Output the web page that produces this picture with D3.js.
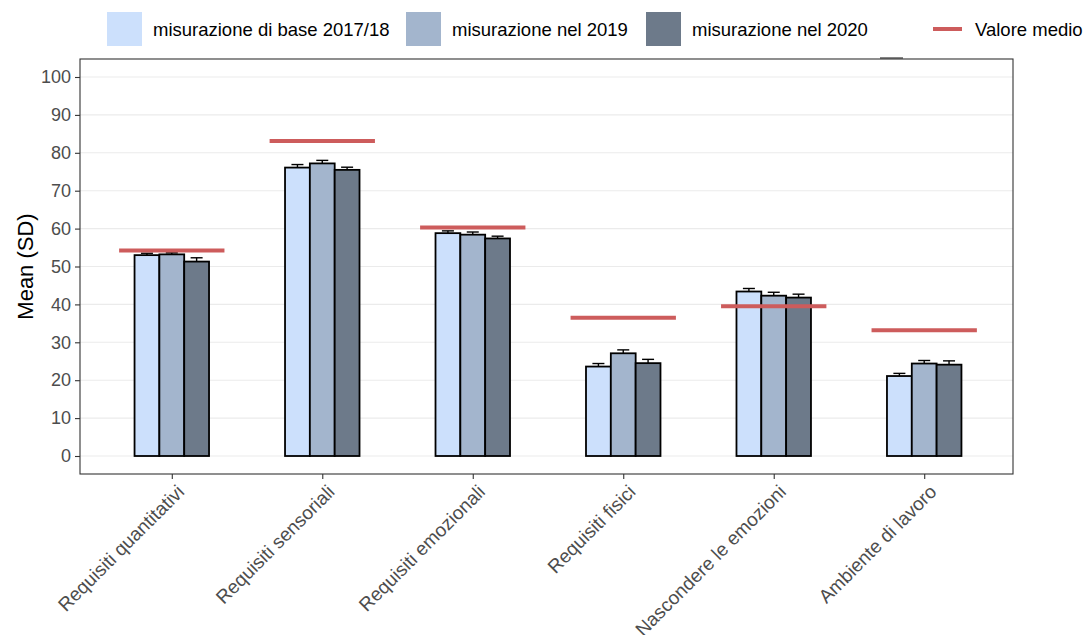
<!DOCTYPE html>
<html>
<head>
<meta charset="utf-8">
<script src="https://cdn.jsdelivr.net/npm/d3@7"></script>
<style>
  body { margin: 0; background: #fff; }
  text { font-family: "Liberation Sans", Arial, sans-serif; }
</style>
</head>
<body>
<script>
(function () {
  var categories = ['Requisiti quantitativi', 'Requisiti sensoriali', 'Requisiti emozionali',
    'Requisiti fisici', 'Nascondere le emozioni', 'Ambiente di lavoro'];
  var seriesNames = ['misurazione di base 2017/18', 'misurazione nel 2019', 'misurazione nel 2020'];
  var base2017 = [53.0, 76.1, 58.8, 23.6, 43.4, 21.1];
  var mis2019 = [53.2, 77.2, 58.4, 27.1, 42.3, 24.4];
  var mis2020 = [51.3, 75.5, 57.4, 24.5, 41.8, 24.1];
  var err2017 = [0.5, 0.8, 0.6, 0.8, 0.8, 0.7];
  var err2019 = [0.4, 0.8, 0.7, 0.9, 0.9, 0.8];
  var err2020 = [1.0, 0.7, 0.6, 1.0, 0.9, 1.0];
  var valoreMedio = [54.2, 83.1, 60.3, 36.5, 39.5, 33.2];
  var yTicks = [0, 10, 20, 30, 40, 50, 60, 70, 80, 90, 100];

  var colors = ['#cce0fc', '#a3b5cd', '#6d7a8a'];
  var meanColor = '#cd5c5c';

  var width = 1085,
    height = 635,
    left = 80,
    right = 1013,
    top = 59,
    bottom = 474;

  var svg = d3.select('body')
    .append('svg')
    .attr('width', width)
    .attr('height', height);

  // ggplot-like discrete expansion: 0.6 of a unit on each side
  var step = (right - left) / (categories.length - 1 + 1.2);
  var x = d3.scalePoint()
    .domain(categories)
    .range([left + 0.6 * step + 1.5, right - 0.6 * step + 1.5]);

  var y = d3.scaleLinear()
    .domain([0, 100])
    .range([456, 77]);

  var barW = step * 0.165;
  var dodge = d3.scaleBand()
    .domain(d3.range(3))
    .range([-1.5 * barW, 1.5 * barW]);

  // grid
  svg.append('g')
    .selectAll('line')
    .data(yTicks)
    .enter()
    .append('line')
    .attr('x1', left)
    .attr('x2', right)
    .attr('y1', function (d) { return y(d); })
    .attr('y2', function (d) { return y(d); })
    .attr('stroke', '#ebebeb')
    .attr('stroke-width', 1.1);

  var series = [base2017, mis2019, mis2020];
  var errs = [err2017, err2019, err2020];
  var rows = [];
  series.forEach(function (vals, s) {
    vals.forEach(function (v, i) {
      rows.push({ s: s, cat: categories[i], v: v, e: errs[s][i] });
    });
  });

  // error bars (drawn under the bars, like the original)
  var eb = svg.append('g')
    .selectAll('g')
    .data(rows)
    .enter()
    .append('g')
    .attr('stroke', '#000')
    .attr('stroke-width', 1.4);
  eb.append('line')
    .attr('x1', function (d) { return x(d.cat) + dodge(d.s) + barW / 2; })
    .attr('x2', function (d) { return x(d.cat) + dodge(d.s) + barW / 2; })
    .attr('y1', function (d) { return y(d.v - d.e); })
    .attr('y2', function (d) { return y(d.v + d.e); });
  eb.append('line')
    .attr('x1', function (d) { return x(d.cat) + dodge(d.s) + barW / 2 - 6; })
    .attr('x2', function (d) { return x(d.cat) + dodge(d.s) + barW / 2 + 6; })
    .attr('y1', function (d) { return y(d.v + d.e); })
    .attr('y2', function (d) { return y(d.v + d.e); });

  svg.append('g')
    .selectAll('rect')
    .data(rows)
    .enter()
    .append('rect')
    .attr('x', function (d) { return x(d.cat) + dodge(d.s); })
    .attr('width', barW)
    .attr('y', function (d) { return y(d.v); })
    .attr('height', function (d) { return y(0) - y(d.v); })
    .attr('fill', function (d) { return colors[d.s]; })
    .attr('stroke', '#000')
    .attr('stroke-width', 1.8);

  // mean lines
  var half = step * 0.35;
  svg.append('g')
    .selectAll('line')
    .data(valoreMedio)
    .enter()
    .append('line')
    .attr('x1', function (d, i) { return x(categories[i]) - half; })
    .attr('x2', function (d, i) { return x(categories[i]) + half; })
    .attr('y1', function (d) { return y(d); })
    .attr('y2', function (d) { return y(d); })
    .attr('stroke', meanColor)
    .attr('stroke-width', 4);

  // panel border
  svg.append('rect')
    .attr('x', left)
    .attr('y', top)
    .attr('width', right - left)
    .attr('height', bottom - top)
    .attr('fill', 'none')
    .attr('stroke', '#333')
    .attr('stroke-width', 1.1);

  // little stray mark on the top border, as in the source
  svg.append('line')
    .attr('x1', 880)
    .attr('x2', 903)
    .attr('y1', 58)
    .attr('y2', 58)
    .attr('stroke', '#333')
    .attr('stroke-width', 1.2);

  // axes
  var yAxis = svg.append('g')
    .attr('transform', 'translate(' + left + ',0)')
    .call(d3.axisLeft(y).tickValues(yTicks).tickSize(5).tickPadding(4));
  yAxis.select('.domain').remove();
  yAxis.selectAll('line').attr('stroke', '#333').attr('stroke-width', 1.1);
  yAxis.selectAll('text')
    .attr('fill', '#4d4d4d')
    .style('font-size', '18px');

  var xAxis = svg.append('g')
    .attr('transform', 'translate(0,' + bottom + ')')
    .call(d3.axisBottom(x).tickSize(5).tickPadding(4));
  xAxis.select('.domain').remove();
  xAxis.selectAll('line').attr('stroke', '#333').attr('stroke-width', 1.1);
  xAxis.selectAll('text')
    .attr('fill', '#4d4d4d')
    .style('font-size', '19px')
    .attr('text-anchor', 'end')
    .attr('y', 0)
    .attr('dy', '0.75em')
    .attr('transform', 'translate(3,9) rotate(-45)');

  svg.append('text')
    .attr('transform', 'translate(33,' + ((top + bottom) / 2) + ') rotate(-90)')
    .attr('text-anchor', 'middle')
    .style('font-size', '22px')
    .attr('fill', '#000')
    .text('Mean (SD)');

  // legend
  var legX = [107, 406, 646];
  var leg = svg.append('g')
    .selectAll('g')
    .data(seriesNames)
    .enter()
    .append('g')
    .attr('transform', function (d, i) { return 'translate(' + legX[i] + ',12)'; });
  leg.append('rect')
    .attr('width', 35)
    .attr('height', 34)
    .attr('fill', function (d, i) { return colors[i]; });
  leg.append('text')
    .attr('x', 46)
    .attr('y', 24)
    .style('font-size', '18.5px')
    .text(function (d) { return d; });

  svg.append('line')
    .attr('x1', 933)
    .attr('x2', 962)
    .attr('y1', 29)
    .attr('y2', 29)
    .attr('stroke', meanColor)
    .attr('stroke-width', 4);
  svg.append('text')
    .attr('x', 975)
    .attr('y', 36)
    .style('font-size', '18.5px')
    .text('Valore medio');
}());
</script>
</body>
</html>
